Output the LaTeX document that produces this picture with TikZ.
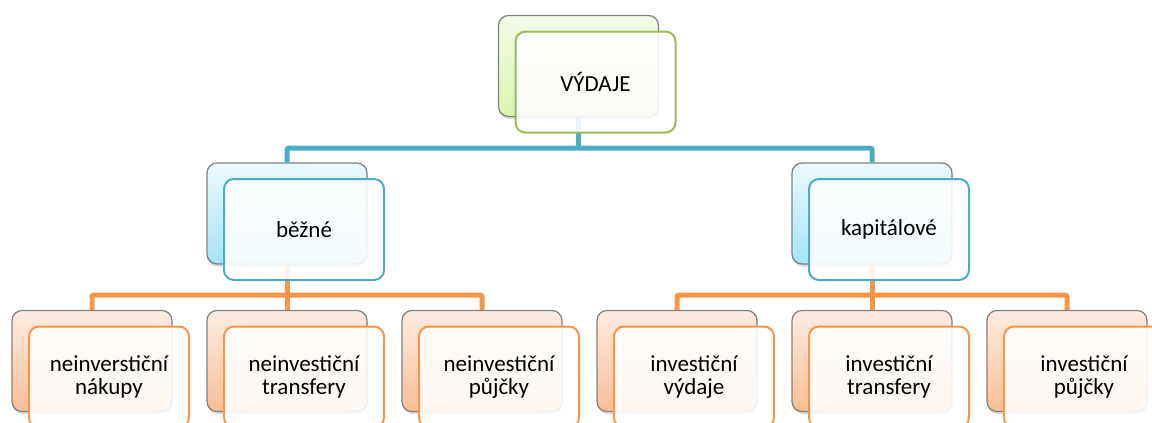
\documentclass[tikz,border=0pt]{standalone}
\usepackage{fontspec}
\setmainfont{Carlito}
\usetikzlibrary{shadows}

\definecolor{accgreen}{HTML}{9BBB59}
\definecolor{accblue}{HTML}{4BACC6}
\definecolor{accorange}{HTML}{F79646}
\definecolor{greentop}{HTML}{F3FBE7}
\definecolor{greenbot}{HTML}{DAF4AE}
\definecolor{bluetop}{HTML}{EAF9FE}
\definecolor{bluebot}{HTML}{A6E4F8}
\definecolor{orangetop}{HTML}{FDECE1}
\definecolor{orangebot}{HTML}{F9BE95}

\tikzset{
  backbox/.style={draw=black!50, line width=1.2pt, rounded corners=10pt,
    minimum width=160pt, minimum height=101pt, inner sep=0pt,
    drop shadow={opacity=0.3, shadow xshift=0.5pt, shadow yshift=-2.5pt}},
  greenback/.style={backbox, top color=greentop, bottom color=greenbot},
  blueback/.style={backbox, top color=bluetop, bottom color=bluebot},
  orangeback/.style={backbox, top color=orangetop, bottom color=orangebot},
  frontbox/.style={draw=#1, line width=2pt, rounded corners=10pt,
    minimum width=160pt, minimum height=101pt, inner sep=0pt,
    fill=white, fill opacity=0.88, text opacity=1, align=center,
    font=\fontsize{23}{23.5}\selectfont},
  conn/.style={draw=#1, line width=5pt, rounded corners=2pt},
}

\begin{document}
\begin{tikzpicture}[x=1pt, y=-1pt]
\useasboundingbox (0,0) rectangle (1152,423);
\clip (0,0) rectangle (1152,423);

% back cards
\node[greenback] (topb) at (578.5,66) {};
\node[blueback] (lb) at (287,213.5) {};
\node[blueback] (rb) at (872,213.5) {};
\node[orangeback] (c1b) at (92,361) {};
\node[orangeback] (c2b) at (287,361) {};
\node[orangeback] (c3b) at (482,361) {};
\node[orangeback] (c4b) at (677,361) {};
\node[orangeback] (c5b) at (872,361) {};
\node[orangeback] (c6b) at (1067,361) {};

% connectors
\coordinate (busT) at (578.5,148);
\coordinate (busL) at (287,295);
\coordinate (busR) at (872,295);
\draw[conn=accblue] (topb.south) -- (busT);
\draw[conn=accblue] (lb.north) |- (busT) -| (rb.north);
\draw[conn=accorange] (lb.south) -- (busL) -- (c2b.north);
\draw[conn=accorange] (c1b.north) |- (busL) -| (c3b.north);
\draw[conn=accorange] (rb.south) -- (busR) -- (c5b.north);
\draw[conn=accorange] (c4b.north) |- (busR) -| (c6b.north);

% front cards with labels
\node[frontbox=accgreen] (topf) at (595.5,82) {VÝDAJE};
\node[frontbox=accblue] (lf) at (304,229.5) {běžné};
\node[frontbox=accblue] (rf) at (889,229.5) {kapitálové};
\node[frontbox=accorange] (c1f) at (109,377) {neinverstiční\\nákupy};
\node[frontbox=accorange] (c2f) at (304,377) {neinvestiční\\transfery};
\node[frontbox=accorange] (c3f) at (499,377) {neinvestiční\\půjčky};
\node[frontbox=accorange] (c4f) at (694,377) {investiční\\výdaje};
\node[frontbox=accorange] (c5f) at (889,377) {investiční\\transfery};
\node[frontbox=accorange] (c6f) at (1084,377) {investiční\\půjčky};
\end{tikzpicture}
\end{document}
